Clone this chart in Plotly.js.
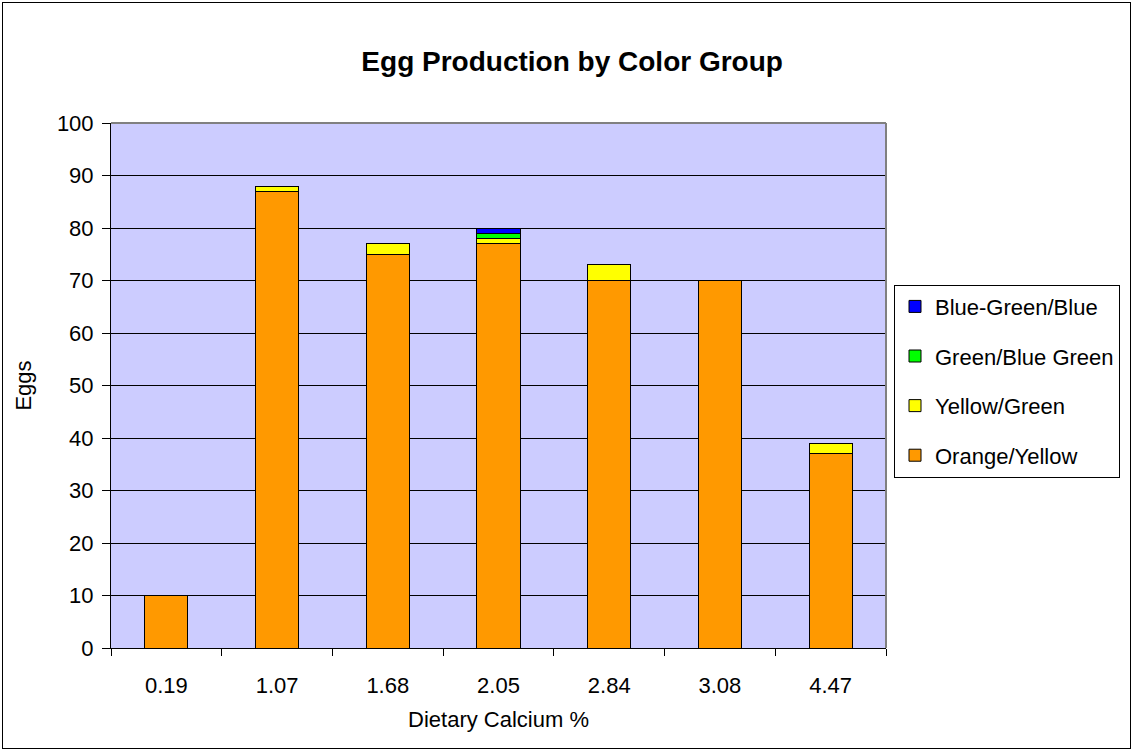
<!DOCTYPE html>
<html>
<head>
<meta charset="utf-8">
<script src="https://cdn.plot.ly/plotly-3.0.1.min.js"></script>
<style>
    body { margin: 0; background: #fff; }
    #chart { position: absolute; left: 2px; top: 2px; width: 1127px; height: 745px; border: 1px solid #000; }
</style>
</head>
<body>
<div id="chart"></div>
<script>
// Dietary calcium levels (categories)
const calcium = ['0.19', '1.07', '1.68', '2.05', '2.84', '3.08', '4.47'];

// Eggs per color group
const orangeYellow = [10, 87, 75, 77, 70, 70, 37];
const yellowGreen = [0, 1, 2, 1, 3, 0, 2];
const greenBlueGreen = [0, 0, 0, 1, 0, 0, 0];
const blueGreenBlue = [0, 0, 0, 1, 0, 0, 0];

const seriesNames = ['Orange/Yellow', 'Yellow/Green', 'Green/Blue Green', 'Blue-Green/Blue'];
const seriesValues = [orangeYellow, yellowGreen, greenBlueGreen, blueGreenBlue];
const seriesColors = ['#FF9900', '#FFFF00', '#00FF00', '#0000FF'];

const fontFamily = 'Liberation Sans, Arial, sans-serif';

var traces = [];
for (let i = 0; i < seriesNames.length; i++) {
    traces.push({
        x: calcium,
        y: seriesValues[i],
        name: seriesNames[i],
        type: 'bar',
        legendgroup: 'g' + i,
        // top of the stack goes first in the legend
        legendrank: seriesNames.length - i,
        marker: { color: seriesColors[i], line: { color: '#000', width: 1 } },
        hoverinfo: 'none'
    });
}

var layout = {
    width: 1127,
    height: 745,
    barmode: 'stack',
    bargap: 0.61,
    paper_bgcolor: '#fff',
    plot_bgcolor: '#CCCCFF',
    margin: { l: 108, r: 244, t: 120, b: 100, autoexpand: false },
    font: { family: fontFamily, size: 22, color: '#000' },
    title: {
        text: '<b>Egg Production by Color Group</b>',
        font: { family: fontFamily, size: 28, color: '#000' },
        x: 0.505, xanchor: 'center',
        y: 0.922, yanchor: 'middle'
    },
    xaxis: {
        type: 'category',
        title: { text: 'Dietary Calcium %', font: { size: 22 }, standoff: 14 },
        ticks: 'outside',
        tickson: 'boundaries',
        ticklen: 7,
        tickcolor: '#000',
        ticklabelstandoff: 18,
        showline: true,
        linecolor: '#000',
        showgrid: false,
        fixedrange: true
    },
    yaxis: {
        title: { text: 'Eggs', font: { size: 22 }, standoff: 19 },
        range: [0, 100],
        dtick: 10,
        ticks: 'outside',
        ticklen: 8,
        tickcolor: '#000',
        ticklabelstandoff: 4,
        gridcolor: '#000',
        gridwidth: 1,
        showline: true,
        linecolor: '#000',
        zeroline: false,
        fixedrange: true
    },
    // grey frame on the top and right side of the plot area
    shapes: [
        { type: 'line', xref: 'paper', yref: 'paper', x0: 0, x1: 1, y0: 1, y1: 1, line: { color: '#808080', width: 2 } },
        { type: 'line', xref: 'paper', yref: 'paper', x0: 1, x1: 1, y0: 0, y1: 1, line: { color: '#808080', width: 2 } }
    ],
    showlegend: true,
    legend: {
        xref: 'container', yref: 'container',
        x: 0.7906, xanchor: 'left',
        y: 0.622, yanchor: 'top',
        traceorder: 'grouped',
        tracegroupgap: 18,
        itemwidth: 30,
        bordercolor: '#000',
        borderwidth: 1,
        bgcolor: '#fff',
        font: { family: fontFamily, size: 22, color: '#000' }
    }
};

Plotly.newPlot('chart', traces, layout, { displayModeBar: false, staticPlot: true });
</script>
</body>
</html>
